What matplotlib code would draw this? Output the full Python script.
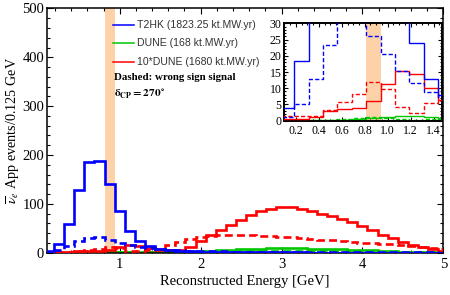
import numpy as np
import matplotlib
matplotlib.use("Agg")
import matplotlib.pyplot as plt
from matplotlib.lines import Line2D
from matplotlib.ticker import MultipleLocator

plt.rcParams['font.family'] = ['Liberation Serif', 'DejaVu Serif']
plt.rcParams['mathtext.fontset'] = 'stix'

# ---- data (bins of 0.125 GeV, centres 0.125 ... 5.0) ----
bin_width = 0.125
bin_centres = np.arange(1, 41) * bin_width

t2hk_sig = [4, 18.5, 58, 128, 185, 187, 141, 86, 45, 24,
            13, 8, 5.5, 4, 3, 2.3, 1.8, 1.4, 1.1, 0.9,
            0.8, 0.7, 0.6, 0.55, 0.5, 0.45, 0.4, 0.38, 0.35, 0.32,
            0.3, 0.28, 0.25, 0.22, 0.2, 0.18, 0.16, 0.14, 0.12, 0.1]
t2hk_ws = [1.2, 5, 12.8, 23.3, 31, 32, 26, 20.5, 15.4, 11.5,
           8.7, 7.2, 6, 5, 4.2, 3.5, 3, 2.6, 2.3, 2,
           1.8, 1.6, 1.5, 1.4, 1.3, 1.2, 1.1, 1.0, 0.9, 0.9,
           0.8, 0.8, 0.7, 0.7, 0.6, 0.6, 0.5, 0.5, 0.5, 0.4]
dune_sig = [0.05, 0.05, 0.1, 0.3, 0.35, 0.4, 0.7, 1.1, 1.5, 1.4,
            1.0, 0.65, 0.5, 0.6, 1.2, 2.3, 3.7, 4.7, 5.7, 6.8,
            7.8, 8.5, 9.0, 9.4, 9.4, 9.0, 8.5, 8.0, 7.5, 7.0,
            6.2, 5.4, 4.6, 3.7, 3.0, 2.3, 1.6, 1.1, 0.8, 0.4]
dune_ws = [0.13, 0.14, 0.16, 0.33, 0.58, 0.82, 1.2, 0.97, 0.43, 0.25,
           0.56, 0.8, 1.5, 2.2, 2.75, 3.15, 3.45, 3.65, 3.7, 3.65,
           3.6, 3.5, 3.4, 3.3, 3.2, 3.0, 2.8, 2.65, 2.5, 2.3,
           2.15, 2.0, 1.9, 1.8, 1.7, 1.6, 1.45, 1.25, 1.05, 0.8]
dune10_sig = [0.5, 0.5, 1.0, 3.0, 3.5, 3.8, 6.2, 11.4, 15.4, 14.3,
              10.0, 6.4, 5.0, 6.0, 12.0, 23.0, 36.6, 47.0, 57.0, 67.6,
              78.0, 85.0, 90.4, 94.0, 94.0, 90.4, 85.0, 80.0, 75.0, 70.0,
              62.0, 54.0, 45.5, 36.6, 29.7, 22.8, 16.0, 11.0, 7.6, 4.0]
dune10_ws = [1.3, 1.4, 1.6, 3.3, 5.8, 8.2, 12.0, 9.7, 4.3, 2.5,
             5.6, 8.0, 15.0, 22.0, 27.5, 31.5, 34.5, 36.5, 37.0, 36.5,
             36.0, 35.0, 34.0, 33.0, 32.0, 30.0, 28.0, 26.5, 25.0, 23.0,
             21.5, 20.0, 19.0, 18.0, 17.0, 16.0, 14.5, 12.5, 10.5, 8.0]

band = (0.8125, 0.9375)
labels = ["T2HK (1823.25 kt.MW.yr)", "DUNE (168 kt.MW.yr)", "10*DUNE (1680 kt.MW.yr)"]

edges = np.concatenate([bin_centres - bin_width / 2, [bin_centres[-1] + bin_width / 2]])

BLUE, GREEN, RED = '#0000ff', '#00c800', '#ff0000'
BAND = '#fdd2a8'
dash = (0, (3.0, 1.6))

fig = plt.figure(figsize=(4.5, 2.95), dpi=100)
ax = fig.add_axes([0.1044, 0.1434, 0.8807, 0.8278])


def draw(a, lw):
    a.axvspan(*band, color=BAND, lw=0, zorder=0)
    a.stairs(dune_sig, edges, color=GREEN, lw=lw, zorder=2)
    a.stairs(dune_ws, edges, color=GREEN, lw=lw, ls=dash, zorder=2)
    a.stairs(dune10_sig, edges, color=RED, lw=lw, zorder=3)
    a.stairs(dune10_ws, edges, color=RED, lw=lw, ls=dash, zorder=3)
    a.stairs(t2hk_sig, edges, color=BLUE, lw=lw, zorder=4)
    a.stairs(t2hk_ws, edges, color=BLUE, lw=lw, ls=dash, zorder=4)


draw(ax, 1.9)
ax.set_xlim(0.1, 5.0)
ax.set_ylim(0, 500)
ax.xaxis.set_major_locator(MultipleLocator(1))
ax.xaxis.set_minor_locator(MultipleLocator(0.2))
ax.yaxis.set_major_locator(MultipleLocator(100))
ax.yaxis.set_minor_locator(MultipleLocator(20))
ax.tick_params(which='both', direction='in', top=True, right=True, labelsize=10.5, width=0.8)
ax.tick_params(which='major', length=4)
ax.tick_params(which='minor', length=2)
ax.tick_params(axis='x', pad=4)
ax.tick_params(axis='y', pad=2)
for s in ax.spines.values():
    s.set_linewidth(1.1)
ax.set_xlabel("Reconstructed Energy [GeV]", fontsize=10.5, labelpad=3)
ax.set_ylabel(r"$\overline{\nu}_e$ App events/0.125 GeV", fontsize=10.2, labelpad=0.5)

# legend
W, H = 450.0, 295.0
colors = [BLUE, GREEN, RED]
ys = [25, 43.3, 61.7]
for c, lab, yp in zip(colors, labels, ys):
    fig.add_artist(Line2D([113 / W, 134 / W], [1 - yp / H, 1 - yp / H], color=c, lw=1.1))
    fig.text(137 / W, 1 - yp / H, lab, fontsize=7.6, family=['Liberation Sans', 'DejaVu Sans'],
             color='#333333', va='center', ha='left')
fig.text(114 / W, 1 - 77.5 / H, "Dashed: wrong sign signal", fontsize=7.8, fontweight='bold',
         va='center', ha='left')
fig.text(114 / W, 1 - 94 / H, r"$\mathbf{\delta}_{\mathbf{CP}}\mathbf{=270^{\circ}}$", fontsize=8.2,
         va='center', ha='left')

# inset
ins = fig.add_axes([0.6318, 0.5908, 0.3511, 0.3302])
draw(ins, 1.0)
ins.set_xlim(0.1, 1.475)
ins.set_ylim(0, 30)
ins.xaxis.set_minor_locator(MultipleLocator(0.05))
ins.yaxis.set_major_locator(MultipleLocator(5))
ins.yaxis.set_minor_locator(MultipleLocator(1))
ins.set_xticks([0.2, 0.4, 0.6, 0.8, 1.0, 1.2, 1.4])
ins.set_xticklabels(["0.2", "0.4", "0.6", "0.8", "1.0", "1.2", "1.4"])
ins.tick_params(which='both', direction='in', top=True, right=True, labelsize=8.5, width=0.8)
ins.tick_params(which='major', length=3)
ins.tick_params(which='minor', length=1.5)
ins.tick_params(axis='x', pad=3)
ins.tick_params(axis='y', pad=2)
for s in ins.spines.values():
    s.set_linewidth(1.4)

fig.savefig("out.png", dpi=100)
